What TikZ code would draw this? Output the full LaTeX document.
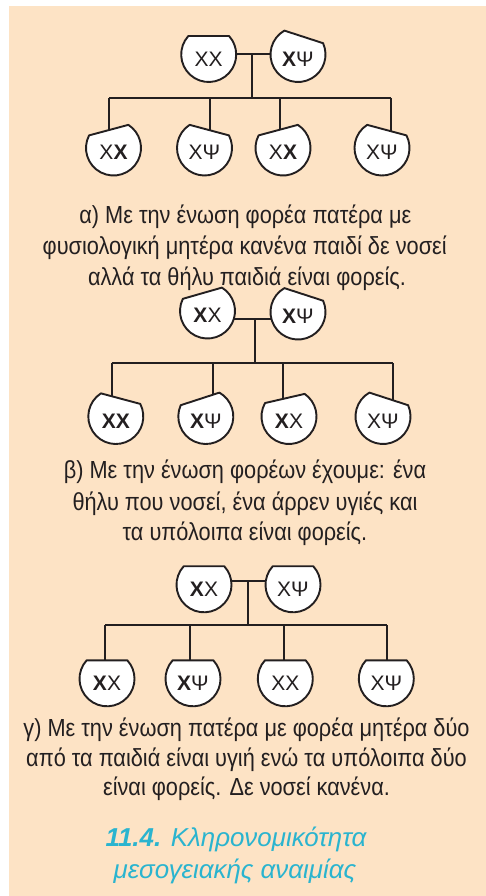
\documentclass[tikz,border=0pt]{standalone}
\usepackage{fontspec}
\setmainfont{Liberation Sans}
\newfontfamily\capfont[FakeStretch=0.88]{Liberation Sans}
\usetikzlibrary{calc}
\definecolor{peach}{RGB}{253,227,197}
\definecolor{ink}{RGB}{35,31,32}
\definecolor{titlecol}{RGB}{42,180,207}
\pgfdeclarelayer{bgl}\pgfdeclarelayer{lines}\pgfsetlayers{bgl,lines,main}
\tikzset{
  cup/.style={draw=ink, fill=white, line width=1.9pt, line join=round},
  link/.style={draw=ink, line width=2pt},
  gene/.style={font=\fontsize{21}{21}\selectfont, text=ink, inner sep=0pt},
  capline/.style={font=\capfont\fontsize{24.7}{24.7}\selectfont, text=ink, inner sep=0pt, anchor=base},
  titleline/.style={font=\fontsize{25.9}{25.9}\selectfont\itshape, text=titlecol, inner sep=0pt, anchor=base},
}
\newcommand{\person}[5]{%
  \coordinate (#1c) at (#2,#3);
  \begin{scope}[shift={(#2,#3)},rotate=#4]
    \draw[cup] (137.7:27.5) arc[start angle=137.7,end angle=402.3,radius=27.5] -- cycle;
  \end{scope}
  \node[gene] (#1) at (#2,#3-4.5) {#5};}
\begin{document}
\begin{tikzpicture}[x=1pt,y=1pt]
\useasboundingbox (0,0) rectangle (486,-896);
\begin{pgfonlayer}{bgl}
  \fill[white] (0,0) rectangle (486,-896);
  \fill[peach] (9,-6) rectangle (486,-896);
\end{pgfonlayer}

% ---- alpha ----
\person{aP1}{208.7}{-54.5}{0}{XX}
\person{aP2}{298}{-54.5}{-18}{\textbf{X}Ψ}
\person{aC1}{113.5}{-148}{15}{X\textbf{X}}
\person{aC2}{204.5}{-148}{-15}{XΨ}
\person{aC3}{283}{-148}{15}{X\textbf{X}}
\person{aC4}{382}{-148}{-15}{XΨ}
\coordinate (aJ) at (251.7,-54.5);
\coordinate (aB) at (251.7,-98);
\coordinate (aD1) at (109,-98);
\coordinate (aD2) at (210,-98);
\coordinate (aD3) at (280,-98);
\coordinate (aD4) at (391,-98);
\begin{pgfonlayer}{lines}
  \draw[link] (aP1c |- aJ) -- (aP2c |- aJ);
  \draw[link] (aJ) -- (aB);
  \draw[link] (aD1) -- (aD4);
  \draw[link] (aD1) -- (aD1 |- aC1c);
  \draw[link] (aD2) -- (aD2 |- aC2c);
  \draw[link] (aD3) -- (aD3 |- aC3c);
  \draw[link] (aD4) -- (aD4 |- aC4c);
\end{pgfonlayer}
\node[capline] (aT1) at (245.3,-223.3) {α) Με την ένωση φορέα πατέρα με};
\node[capline] (aT2) at (244.7,-254.5) {φυσιολογική μητέρα κανένα παιδί δε νοσεί};
\node[capline] (aT3) at (247,-285.5) {αλλά τα θήλυ παιδιά είναι φορείς.};

% ---- beta ----
\person{bP1}{207.5}{-311}{16}{\textbf{X}X}
\person{bP2}{298}{-312}{-18}{\textbf{X}Ψ}
\person{bC1}{115.8}{-416.5}{-15}{\textbf{XX}}
\person{bC2}{205.8}{-416.5}{18}{\textbf{X}Ψ}
\person{bC3}{289}{-416.5}{13}{\textbf{X}X}
\person{bC4}{383}{-416.5}{-18}{XΨ}
\coordinate (bJ) at (255,-319.3);
\coordinate (bB) at (255,-363);
\coordinate (bD1) at (111.7,-363);
\coordinate (bD2) at (213.3,-363);
\coordinate (bD3) at (282.7,-363);
\coordinate (bD4) at (393.3,-363);
\begin{pgfonlayer}{lines}
  \draw[link] (bP1c |- bJ) -- (bP2c |- bJ);
  \draw[link] (bJ) -- (bB);
  \draw[link] (bD1) -- (bD4);
  \draw[link] (bD1) -- (bD1 |- bC1c);
  \draw[link] (bD2) -- (bD2 |- bC2c);
  \draw[link] (bD3) -- (bD3 |- bC3c);
  \draw[link] (bD4) -- (bD4 |- bC4c);
\end{pgfonlayer}
\node[capline] (bT1) at (245,-478.3) {β) Με την ένωση φορέων έχουμε: ένα};
\node[capline] (bT2) at (245,-510) {θήλυ που νοσεί, ένα άρρεν υγιές και};
\node[capline] (bT3) at (245,-540.5) {τα υπόλοιπα είναι φορείς.};

% ---- gamma ----
\person{gP1}{204}{-584.8}{0}{\textbf{X}X}
\person{gP2}{293}{-584.8}{0}{XΨ}
\person{gC1}{107}{-678.8}{0}{\textbf{X}X}
\person{gC2}{193}{-678.8}{0}{\textbf{X}Ψ}
\person{gC3}{285.3}{-678.8}{0}{XX}
\person{gC4}{386.3}{-678.8}{0}{XΨ}
\coordinate (gJ) at (248.3,-580.7);
\coordinate (gB) at (248.3,-625);
\coordinate (gD1) at (105,-625);
\coordinate (gD2) at (190,-625);
\coordinate (gD3) at (284,-625);
\coordinate (gD4) at (386.7,-625);
\begin{pgfonlayer}{lines}
  \draw[link] (gP1c |- gJ) -- (gP2c |- gJ);
  \draw[link] (gJ) -- (gB);
  \draw[link] (gD1) -- (gD4);
  \draw[link] (gD1) -- (gD1 |- gC1c);
  \draw[link] (gD2) -- (gD2 |- gC2c);
  \draw[link] (gD3) -- (gD3 |- gC3c);
  \draw[link] (gD4) -- (gD4 |- gC4c);
\end{pgfonlayer}
\node[capline] (gT1) at (246.5,-736) {γ) Με την ένωση πατέρα με φορέα μητέρα δύο};
\node[capline] (gT2) at (246.5,-766) {από τα παιδιά είναι υγιή ενώ τα υπόλοιπα δύο};
\node[capline] (gT3) at (246.5,-795.5) {είναι φορείς. Δε νοσεί κανένα.};

% ---- title ----
\node[titleline] (t1) at (236,-846.5) {\textbf{11.4.} Κληρονομικότητα};
\node[titleline] (t2) at (235,-878) {μεσογειακής αναιμίας};
\end{tikzpicture}
\end{document}
